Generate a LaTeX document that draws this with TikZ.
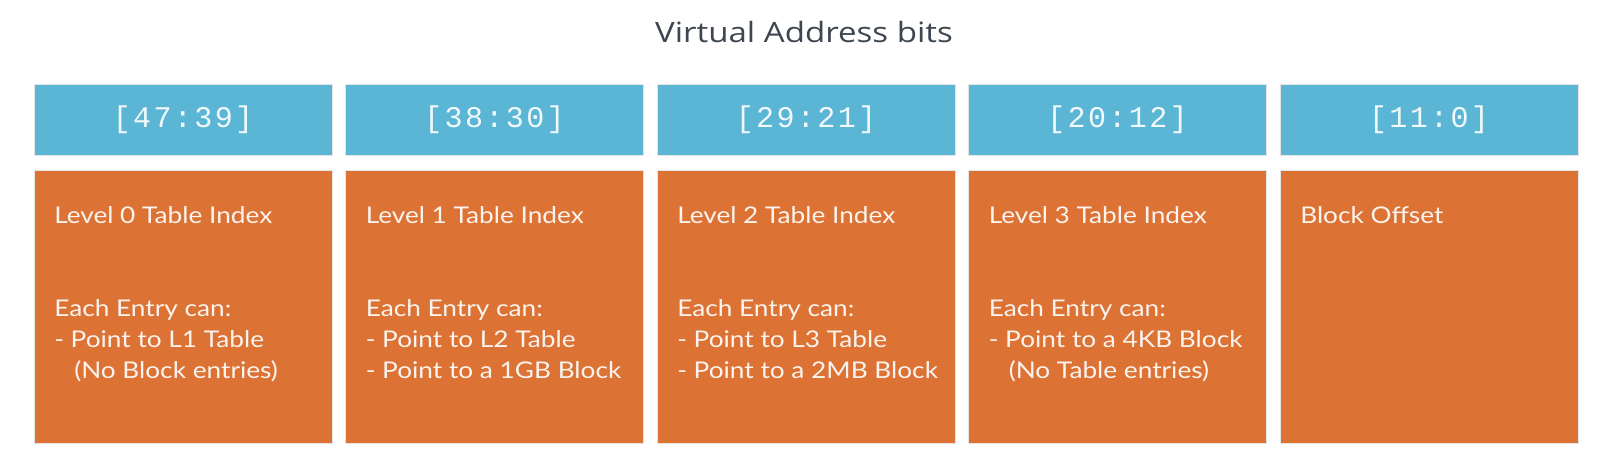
\documentclass[tikz,border=0pt]{standalone}
\usepackage{fontspec}
\setmainfont{Lato}
\newfontfamily\bodyfont[FakeStretch=1.14]{Lato}
\newfontfamily\headfont[FakeStretch=1.18]{Open Sans}
\newfontfamily\bitfont[LetterSpace=8]{Liberation Mono}
\definecolor{vblue}{HTML}{5BB6D5}
\definecolor{vorange}{HTML}{DD7235}
\definecolor{vtitle}{HTML}{3E4651}
\definecolor{vtext}{HTML}{FBF4EE}
\definecolor{vbit}{HTML}{F2F9FC}
\begin{document}
\begin{tikzpicture}[x=0.75pt,y=-0.75pt,
  bluebox/.style={draw=black!10,line width=0.75pt,fill=vblue,minimum width=223.5pt,minimum height=53.25pt,inner sep=0pt,outer sep=0pt,anchor=north west},
  orbox/.style={draw=black!10,line width=0.75pt,fill=vorange,minimum width=223.5pt,minimum height=204.75pt,inner sep=0pt,outer sep=0pt,anchor=north west},
  bitlabel/.style={text=vbit,font=\bitfont\fontsize{22.5}{26}\selectfont,inner sep=0pt},
  bodytext/.style={text=vtext,font=\bodyfont\fontsize{17.25}{23.25}\selectfont,align=left,inner sep=0pt,anchor=north west},
  titletext/.style={text=vtitle,font=\headfont\fontsize{21}{25}\selectfont,inner sep=0pt,anchor=base}]
\useasboundingbox[fill=white] (0,0) rectangle (1604,464);
\node[titletext] (title) at (804,42) {Virtual Address bits};
\foreach \i/\bits/\body in {
  0/{[47:39]}/{Level 0 Table Index\\[46.5pt]Each Entry can:\\- Point to L1 Table\\\hspace*{15pt}(No Block entries)},
  1/{[38:30]}/{Level 1 Table Index\\[46.5pt]Each Entry can:\\- Point to L2 Table\\- Point to a 1GB Block},
  2/{[29:21]}/{Level 2 Table Index\\[46.5pt]Each Entry can:\\- Point to L3 Table\\- Point to a 2MB Block},
  3/{[20:12]}/{Level 3 Table Index\\[46.5pt]Each Entry can:\\- Point to a 4KB Block\\\hspace*{15pt}(No Table entries)},
  4/{[11:0]}/{Block Offset}}{
  \node[bluebox] (b\i) at ({34+311.5*\i},84) {};
  \node[bitlabel] (l\i) at (b\i.center) {\bits};
  \node[orbox] (o\i) at ({34+311.5*\i},170) {};
  \node[bodytext] (t\i) at ([shift={(20,36)}]o\i.north west) {\body};
}
\end{tikzpicture}
\end{document}
